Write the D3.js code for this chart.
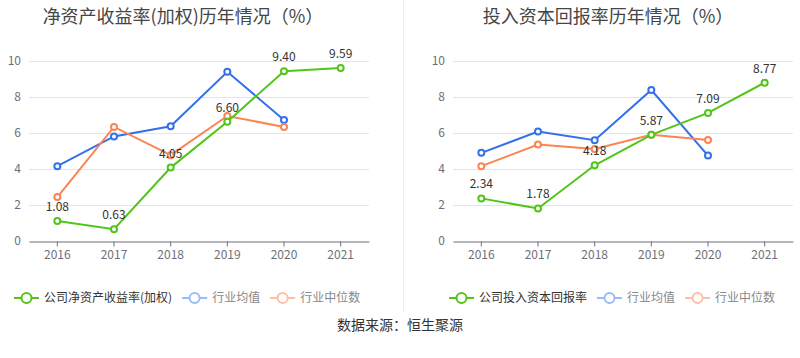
<!DOCTYPE html>
<html><head><meta charset="utf-8">
<script src="https://cdn.jsdelivr.net/npm/d3@7"></script>
<style>body{margin:0;background:#fff}svg{display:block;font-family:"Noto Sans CJK SC","Noto Sans",sans-serif}</style>
</head><body><svg id="c" width="800" height="358"></svg>
<script>
const years = ["2016","2017","2018","2019","2020","2021"];
const yTicks = [0,2,4,6,8,10];
const roeCompany = [1.08,0.63,4.05,6.60,9.40,9.59];
const roeAvg = [4.13,5.78,6.35,9.37,6.70];
const roeMedian = [2.41,6.31,4.74,6.92,6.31];
const roicCompany = [2.34,1.78,4.18,5.87,7.09,8.77];
const roicAvg = [4.87,6.05,5.57,8.36,4.72];
const roicMedian = [4.13,5.33,5.09,5.88,5.59];
const titles = ["净资产收益率(加权)历年情况（%）","投入资本回报率历年情况（%）"];
const legendNames = [["公司净资产收益率(加权)","行业均值","行业中位数"],["公司投入资本回报率","行业均值","行业中位数"]];
const source = "数据来源：恒生聚源";

const C = {green:"#52c41a", blue:"#3370eb", orange:"#fb8452", blueL:"#9cbaf5", orangeL:"#fdc0a5"};
const svg = d3.select("#c");

function panel(ox, titleX, company, avg, median, names, title, legendX){
  const g = svg.append("g");
  const x = d3.scaleBand().domain(years).range([ox, ox+340]);
  const y = d3.scaleLinear().domain([0,10]).range([240.5, 60.5]);
  g.append("text").attr("x", titleX).attr("y", 23).attr("text-anchor","middle")
    .attr("font-size",18).attr("fill","#464646").text(title);
  // grid
  g.selectAll(".grid").data(yTicks.filter(d=>d>0)).enter().append("line")
    .attr("x1", ox).attr("x2", ox+340).attr("y1", d=>Math.round(y(d))+0.5).attr("y2", d=>Math.round(y(d))+0.5)
    .attr("stroke","#e0e6f1");
  // y labels
  g.selectAll(".yl").data(yTicks).enter().append("text")
    .attr("x", ox-8).attr("y", d=>y(d)).attr("dy","0.35em").attr("text-anchor","end")
    .attr("font-size",12).attr("fill","#6e7079").text(d=>d);
  // x axis
  const xa = g.append("g").attr("transform",`translate(0,${Math.round(y(0))+0.5})`)
    .call(d3.axisBottom(x).tickSize(5).tickSizeOuter(0).tickPadding(4));
  xa.select(".domain").attr("stroke","#6e7079");
  xa.selectAll(".tick line").attr("stroke","#6e7079");
  xa.selectAll(".tick text").attr("fill","#6e7079").attr("font-size",12).attr("font-family",'"Noto Sans CJK SC","Noto Sans",sans-serif');
  const cx = (d,i)=> x(years[i]) + x.bandwidth()/2;
  const line = d3.line().x(cx).y(d=>y(d));
  [[avg,C.blue],[median,C.orange],[company,C.green]].forEach(([data,col])=>{
    g.append("path").attr("d", line(data)).attr("fill","none").attr("stroke",col).attr("stroke-width",2);
    g.selectAll(null).data(data).enter().append("circle")
      .attr("cx",cx).attr("cy",d=>y(d)).attr("r",3).attr("fill","#fff").attr("stroke",col).attr("stroke-width",2);
  });
  g.selectAll(null).data(company).enter().append("text")
    .attr("x",cx).attr("y",d=>y(d)-10).attr("text-anchor","middle")
    .attr("font-size",12).attr("fill","#333").text(d=>d.toFixed(2));
  // legend
  const cols = [[C.green,"#333"],[C.blueL,"#888"],[C.orangeL,"#888"]];
  let lx = legendX;
  names.forEach((n,i)=>{
    const lg = g.append("g");
    lg.append("line").attr("x1",lx).attr("x2",lx+25).attr("y1",298).attr("y2",298).attr("stroke",cols[i][0]).attr("stroke-width",2);
    lg.append("circle").attr("cx",lx+12.5).attr("cy",298).attr("r",5).attr("fill","#fff").attr("stroke",cols[i][0]).attr("stroke-width",2);
    const t = lg.append("text").attr("x",lx+30).attr("y",298).attr("dy","0.35em").attr("font-size",12).attr("fill",cols[i][1]).text(n);
    lx += 30 + t.node().getComputedTextLength() + 10;
  });
}
svg.append("line").attr("x1",403.5).attr("x2",403.5).attr("y1",0).attr("y2",312).attr("stroke","#eeeeee");
panel(29, 183, roeCompany, roeAvg, roeMedian, legendNames[0], titles[0], 14);
panel(453, 608, roicCompany, roicAvg, roicMedian, legendNames[1], titles[1], 449);
svg.append("text").attr("x",400).attr("y",325).attr("dy","0.35em").attr("text-anchor","middle")
  .attr("font-size",14).attr("fill","#333").text(source);
</script></body></html>
